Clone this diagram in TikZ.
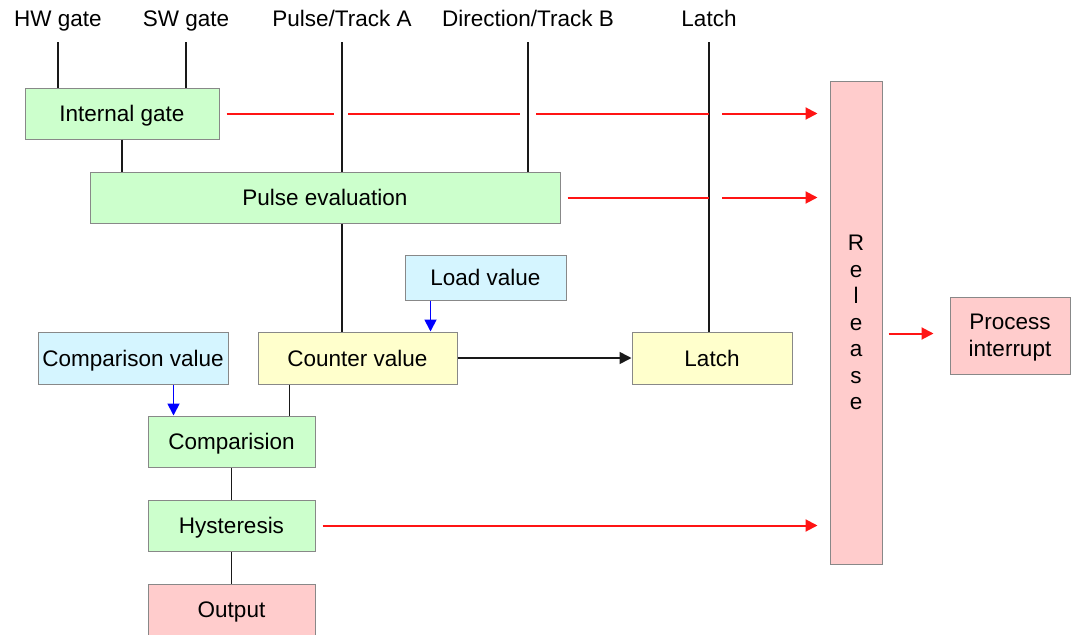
\documentclass[tikz,border=0pt]{standalone}
\usepackage{fontspec}
\setmainfont{Liberation Sans}
\usetikzlibrary{arrows.meta}

\definecolor{boxgreen}{RGB}{204,255,204}
\definecolor{boxyellow}{RGB}{255,255,204}
\definecolor{boxblue}{RGB}{213,245,255}
\definecolor{boxred}{RGB}{255,204,204}
\definecolor{boxedge}{RGB}{136,136,136}
\definecolor{sigred}{RGB}{255,20,20}

\tikzset{
    txt/.style={font=\fontsize{22.5}{26.5}\selectfont},
    tallblock/.style={txt, draw=boxedge, line width=1pt, inner sep=0pt, align=center},
    block/.style={tallblock, text height=16pt, text depth=0pt},
    inlabel/.style={txt, anchor=south, inner xsep=0pt, inner ysep=10pt, text height=16pt, text depth=5pt},
    wire/.style={line width=1.6pt, black!90},
    sig/.style={line width=2pt, sigred},
    setline/.style={line width=1.8pt, blue},
    tip/.style={-{Triangle[length=12pt,width=12pt]}}
}

\begin{document}
\begin{tikzpicture}[x=1pt, y=-1pt]
    \useasboundingbox (0,0) rectangle (1080,635);

    % Draw nodes
    \node[inlabel] (hw) at (58,42) {HW gate};
    \node[inlabel] (sw) at (186,42) {SW gate};
    \node[inlabel] (pta) at (342,42) {Pulse/Track A};
    \node[inlabel] (dtb) at (528,42) {Direction/Track B};
    \node[inlabel] (lal) at (709,42) {Latch};

    \node[block, fill=boxgreen, minimum width=194pt, minimum height=51pt] (ig) at (122,113.5) {Internal gate};
    \node[block, fill=boxgreen, minimum width=470pt, minimum height=51pt] (pe) at (325,197.5) {Pulse evaluation};
    \node[tallblock, fill=boxred, minimum width=52pt, minimum height=483pt] (rel) at (856,322.5) {R\\e\\l\\e\\a\\s\\e};
    \node[tallblock, text depth=0pt, fill=boxred, minimum width=120pt, minimum height=77pt] (pi) at (1010,335.5) {Process\\interrupt};
    \node[block, fill=boxblue, minimum width=161pt, minimum height=45pt] (lv) at (485.5,277.5) {Load value};
    \node[block, fill=boxyellow, minimum width=199pt, minimum height=52pt] (cv) at (357.5,358) {Counter value};
    \node[block, fill=boxblue, minimum width=190pt, minimum height=52pt] (cmv) at (133,358) {Comparison value};
    \node[block, fill=boxyellow, minimum width=160pt, minimum height=52pt] (lat) at (712,358) {Latch};
    \node[block, fill=boxgreen, minimum width=167pt, minimum height=51pt] (cmp) at (231.5,441.5) {Comparision};
    \node[block, fill=boxgreen, minimum width=167pt, minimum height=51pt] (hys) at (231.5,525.5) {Hysteresis};
    \node[block, fill=boxred, minimum width=167pt, minimum height=51pt] (out) at (231.5,609.5) {Output};

    \coordinate (lvout) at ([xshift=26pt]lv.south west);
    \coordinate (cmvout) at ([xshift=136pt]cmv.south west);
    \coordinate (cvout) at ([xshift=32pt]cv.south west);

    % Draw connections
    \draw[wire] (hw.south) -- (hw.south |- ig.north);
    \draw[wire] (sw.south) -- (sw.south |- ig.north);
    \draw[wire] (pta.south) -- (pta.south |- pe.north);
    \draw[wire] (pe.south -| pta.south) -- (pta.south |- cv.north);
    \draw[wire] (dtb.south) -- (dtb.south |- pe.north);
    \draw[wire] (lal.south) -- (lal.south |- lat.north);
    \draw[wire] (ig.south) -- (ig.south |- pe.north);
    \draw[wire] (cvout) -- (cvout |- cmp.north);
    \draw[wire] (cmp) -- (hys);
    \draw[wire] (hys) -- (out);
    \draw[wire, tip] (cv) -- (lat);

    \draw[setline, tip] (lvout) -- (lvout |- cv.north);
    \draw[setline, tip] (cmvout) -- (cmvout |- cmp.north);

    % Release signals
    \draw[sig, shorten <=7pt, shorten >=8pt] (ig.east) -- (ig.east -| pta.south);
    \draw[sig, shorten <=6pt, shorten >=8pt] (ig.east -| pta.south) -- (ig.east -| dtb.south);
    \draw[sig, shorten <=8pt] (ig.east -| dtb.south) -- (ig.east -| lal.south);
    \draw[sig, tip, shorten <=13pt, shorten >=12pt] (ig.east -| lal.south) -- (ig.east -| rel.west);
    \draw[sig, shorten <=7pt] (pe.east) -- (pe.east -| lal.south);
    \draw[sig, tip, shorten <=13pt, shorten >=12pt] (pe.east -| lal.south) -- (pe.east -| rel.west);
    \draw[sig, tip, shorten <=7pt, shorten >=12pt] (hys.east) -- (hys.east -| rel.west);
    \draw[sig, tip, shorten <=6pt, shorten >=16pt] ([yshift=2pt]rel.east |- pi.west) -- ([yshift=2pt]pi.west);
\end{tikzpicture}
\end{document}
